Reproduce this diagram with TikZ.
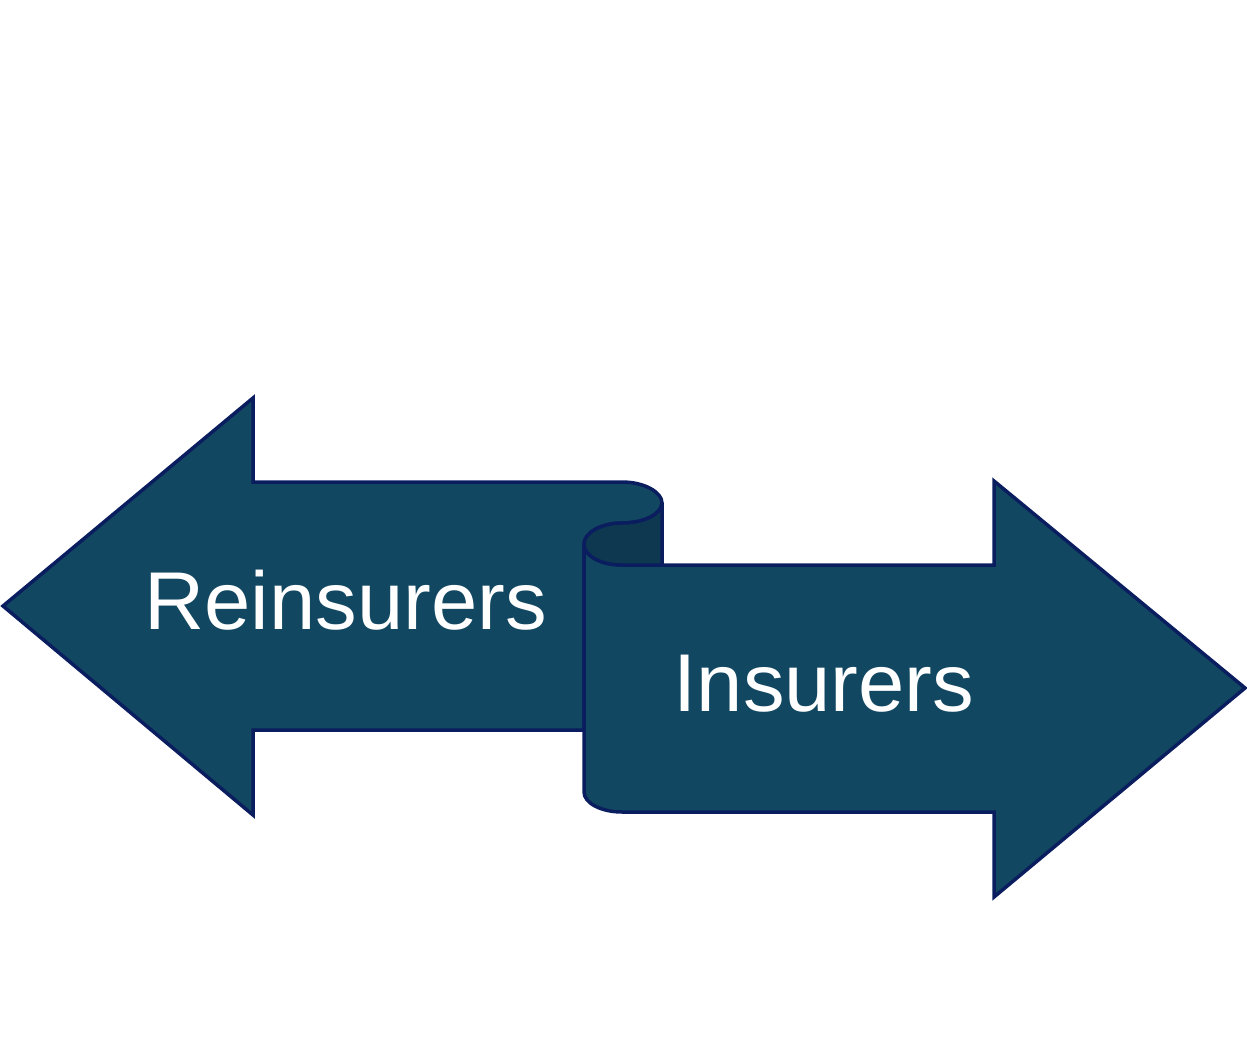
\documentclass[tikz,border=0pt]{standalone}
\usepackage{fontspec}
\setmainfont{Liberation Sans}
\definecolor{arrowfill}{RGB}{18,71,97}
\definecolor{foldfill}{RGB}{14,56,80}
\definecolor{edgecol}{RGB}{10,30,95}
\begin{document}
\begin{tikzpicture}[x=1pt,y=-1pt,
  arrowshape/.style={fill=arrowfill,draw=edgecol,line width=3.5pt,line join=miter},
  foldshape/.style={fill=foldfill,draw=edgecol,line width=3.5pt,line join=round},
  lbl/.style={text=white,font=\fontsize{82}{96}\selectfont,anchor=base,inner sep=0pt,xscale=1.015}]
\useasboundingbox (0,0) rectangle (1247,1056);
% left arrow
\path[arrowshape] (3,606) -- (253,398) -- (253,482) -- (622,482)
  .. controls (644,482) and (662,492) .. (662,503)
  .. controls (662,514) and (644,523) .. (622,523)
  .. controls (601,523) and (584,533) .. (584,544)
  -- (584,730) -- (253,730) -- (253,815) -- cycle;
% right arrow
\path[arrowshape] (584,544) -- (584,792)
  .. controls (584,803) and (601,812) .. (622,812)
  -- (994,812) -- (994,897) -- (1245,688) -- (994,481) -- (994,565)
  -- (622,565)
  .. controls (601,565) and (584,556) .. (584,544) -- cycle;
% fold
\path[foldshape] (662,503) -- (662,565) -- (622,565)
  .. controls (601,565) and (584,556) .. (584,544)
  .. controls (584,533) and (601,523) .. (622,523)
  .. controls (644,523) and (662,514) .. (662,503) -- cycle;
\node[lbl] (rein) at (345.5,629) {Reinsurers};
\node[lbl] (ins) at (824,711) {Insurers};
\end{tikzpicture}
\end{document}
